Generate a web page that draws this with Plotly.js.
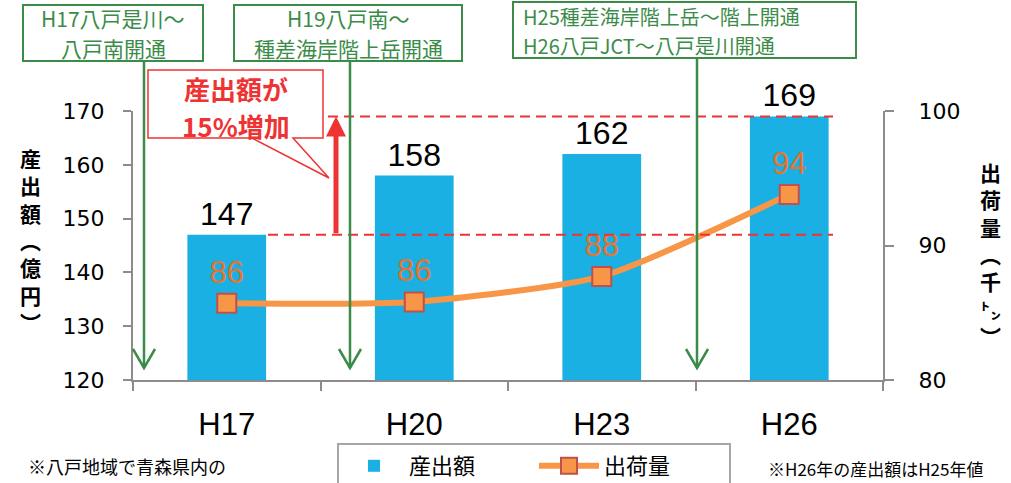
<!DOCTYPE html>
<html>
<head>
<meta charset="utf-8">
<script src="https://cdn.plot.ly/plotly-3.0.1.min.js"></script>
<style>html,body{margin:0;padding:0;background:#fff;}#chart{width:1011px;height:483px;}</style>
</head>
<body>
<div id="chart"></div>
<script>
// ---- data ----
const categories = ['H17', 'H20', 'H23', 'H26'];
const outputValues = [147, 158, 162, 169];        // 産出額（億円）
const shipmentValues = [85.7, 85.8, 87.7, 93.8];  // 出荷量（千㌧）
const shipmentLabels = ['86', '86', '88', '94'];
const leftTicks = [120, 130, 140, 150, 160, 170];
const rightTicks = [80, 90, 100];
const openingNotes = [
  ['H17八戸是川～', '八戸南開通'],
  ['H19八戸南～', '種差海岸階上岳開通'],
  ['H25種差海岸階上岳～階上開通', 'H26八戸JCT～八戸是川開通']
];
const calloutLines = ['産出額が', '15%増加'];

// ---- layout helpers (pixel -> paper) ----
const PL = 133, PR = 883, PT = 111, PB = 380;
const X = px => (px - PL) / (PR - PL);
const Y = py => (PB - py) / (PB - PT);
const P = (px, py) => X(px) + ',' + Y(py);

const GREEN = '#3B8C49';
const RED = '#EE3333';
const AXIS = '#8C8C8C';
const CJK = '"Noto Sans CJK JP", "Noto Sans", sans-serif';
const ARIAL = '"Liberation Sans", Arial, sans-serif';

const barTrace = {
  type: 'bar',
  name: '産出額',
  x: categories,
  y: outputValues,
  yaxis: 'y',
  width: 0.42,
  marker: {color: '#1AB0E3'},
  text: outputValues.map(String),
  textposition: 'outside',
  textfont: {family: ARIAL, size: 32, color: '#000'},
  constraintext: 'none',
  cliponaxis: false,
  hoverinfo: 'x+y'
};

const lineTrace = {
  type: 'scatter',
  mode: 'lines+markers+text',
  name: '出荷量',
  x: categories,
  y: shipmentValues,
  yaxis: 'y2',
  line: {color: '#F79646', width: 6, shape: 'spline', smoothing: 0.6},
  marker: {symbol: 'square', size: 19, color: '#F79646', line: {color: '#C0504D', width: 2}},
  text: shipmentLabels,
  textposition: 'top center',
  textfont: {family: ARIAL, size: 31, color: '#E8732C'},
  cliponaxis: false
};

const shapes = [];
// red dashed reference lines at H17 and H26 output levels
shapes.push({type: 'line', layer: 'above', xref: 'paper', yref: 'y', x0: X(268), x1: X(833), y0: outputValues[0], y1: outputValues[0], line: {color: RED, width: 2, dash: '10px,6px'}});
shapes.push({type: 'line', layer: 'above', xref: 'paper', yref: 'y', x0: X(328), x1: X(833), y0: outputValues[3], y1: outputValues[3], line: {color: RED, width: 2, dash: '10px,6px'}});
// red callout bubble
shapes.push({type: 'path', layer: 'above', xref: 'paper', yref: 'paper',
  path: 'M' + P(148, 70) + 'L' + P(323, 70) + 'L' + P(323, 138) + 'L' + P(293, 138) + 'L' + P(329, 178) + 'L' + P(252, 138) + 'L' + P(148, 138) + 'Z',
  fillcolor: '#fff', line: {color: RED, width: 1.5}});

// green opening boxes + arrows
const boxes = [
  {x0: 23, x1: 203, y0: 5, y1: 61, ax: 144},
  {x0: 234, x1: 462, y0: 5, y1: 61, ax: 350},
  {x0: 513, x1: 856, y0: 2, y1: 58, ax: 697}
];
const tipY = 368;
boxes.forEach(b => {
  shapes.push({type: 'line', layer: 'above', xref: 'paper', yref: 'paper', x0: X(b.ax), x1: X(b.ax), y0: Y(b.y1), y1: Y(tipY), line: {color: GREEN, width: 2.5}});
  shapes.push({type: 'path', layer: 'above', xref: 'paper', yref: 'paper',
    path: 'M' + P(b.ax - 11, tipY - 19) + 'L' + P(b.ax, tipY) + 'L' + P(b.ax + 11, tipY - 19),
    line: {color: GREEN, width: 2.5}});
  shapes.push({type: 'rect', layer: 'above', xref: 'paper', yref: 'paper', x0: X(b.x0), x1: X(b.x1), y0: Y(b.y0), y1: Y(b.y1),
    fillcolor: '#fff', line: {color: GREEN, width: 2}});
});

function txt(px, py, text, size, color, anchor, extra) {
  return Object.assign({xref: 'paper', yref: 'paper', x: X(px), y: Y(py), text: text, showarrow: false,
    xanchor: anchor || 'center', yanchor: 'middle', align: anchor === 'left' ? 'left' : 'center',
    font: {family: CJK, size: size, color: color}}, extra || {});
}

const annotations = [
  txt(113, 18, openingNotes[0][0], 21, GREEN),
  txt(113, 48, openingNotes[0][1], 21, GREEN),
  txt(348, 18, openingNotes[1][0], 21, GREEN),
  txt(348, 48, openingNotes[1][1], 21, GREEN),
  txt(521, 16, openingNotes[2][0], 20, GREEN, 'left'),
  txt(521, 45, openingNotes[2][1], 20, GREEN, 'left'),
  // callout text
  txt(236, 88, '<b>' + calloutLines[0] + '</b>', 26, RED),
  txt(236, 126, '<b>' + calloutLines[1] + '</b>', 26, RED),
  // red up arrow (from H17 level to H26 level)
  {xref: 'paper', yref: 'y', x: X(336), y: outputValues[3], axref: 'pixel', ayref: 'y', ax: 0, ay: outputValues[0],
    text: '', showarrow: true, arrowhead: 2, arrowsize: 0.8, arrowwidth: 5, arrowcolor: RED, standoff: 0, startstandoff: 0},
  // vertical axis titles
  txt(31, 240, '<b>産<br>出<br>額<br>︵<br>億<br>円<br>︶</b>', 21, '#000'),
  txt(990, 254, '<b>出<br>荷<br>量<br>︵<br>千<br>㌧<br>︶</b>', 21, '#000'),
  // footnotes
  txt(26, 466, '※八戸地域で青森県内の', 18, '#000', 'left'),
  txt(766, 468, '※H26年の産出額はH25年値', 17, '#000', 'left')
];

const axisCommon = {
  showline: true, linecolor: AXIS, linewidth: 2,
  ticks: 'outside', tickcolor: AXIS, tickwidth: 2,
  showgrid: false, zeroline: false, fixedrange: true, automargin: false
};

const layout = {
  width: 1011, height: 483,
  margin: {l: PL, r: 1011 - PR, t: PT, b: 483 - PB, pad: 0, autoexpand: false},
  paper_bgcolor: '#fff', plot_bgcolor: '#fff',
  font: {family: CJK, color: '#000'},
  showlegend: true,
  legend: {
    orientation: 'h', x: X(337), y: Y(443), xanchor: 'left', yanchor: 'top',
    bordercolor: '#A6A6A6', borderwidth: 2, bgcolor: '#fff',
    font: {family: CJK, size: 22, color: '#000'},
    itemwidth: 60, entrywidth: 120, traceorder: 'normal'
  },
  xaxis: Object.assign({}, axisCommon, {
    type: 'category', categoryorder: 'array', categoryarray: categories,
    range: [-0.5, 3.5], tickson: 'boundaries', ticklen: 9,
    tickfont: {family: ARIAL, size: 31, color: '#000'}, ticklabelstandoff: 16
  }),
  yaxis: Object.assign({}, axisCommon, {
    range: [120, 170], tickvals: leftTicks, ticklen: 8,
    tickfont: {family: '"DejaVu Sans", sans-serif', size: 22, color: '#000'}, ticklabelstandoff: 14
  }),
  yaxis2: Object.assign({}, axisCommon, {
    overlaying: 'y', side: 'right', range: [80, 100], tickvals: rightTicks, ticklen: 9,
    tickfont: {family: '"DejaVu Sans", sans-serif', size: 22, color: '#000'}, ticklabelstandoff: 20
  }),
  shapes: shapes,
  annotations: annotations
};

Plotly.newPlot('chart', [barTrace, lineTrace], layout, {displayModeBar: false, staticPlot: true});
</script>
</body>
</html>
